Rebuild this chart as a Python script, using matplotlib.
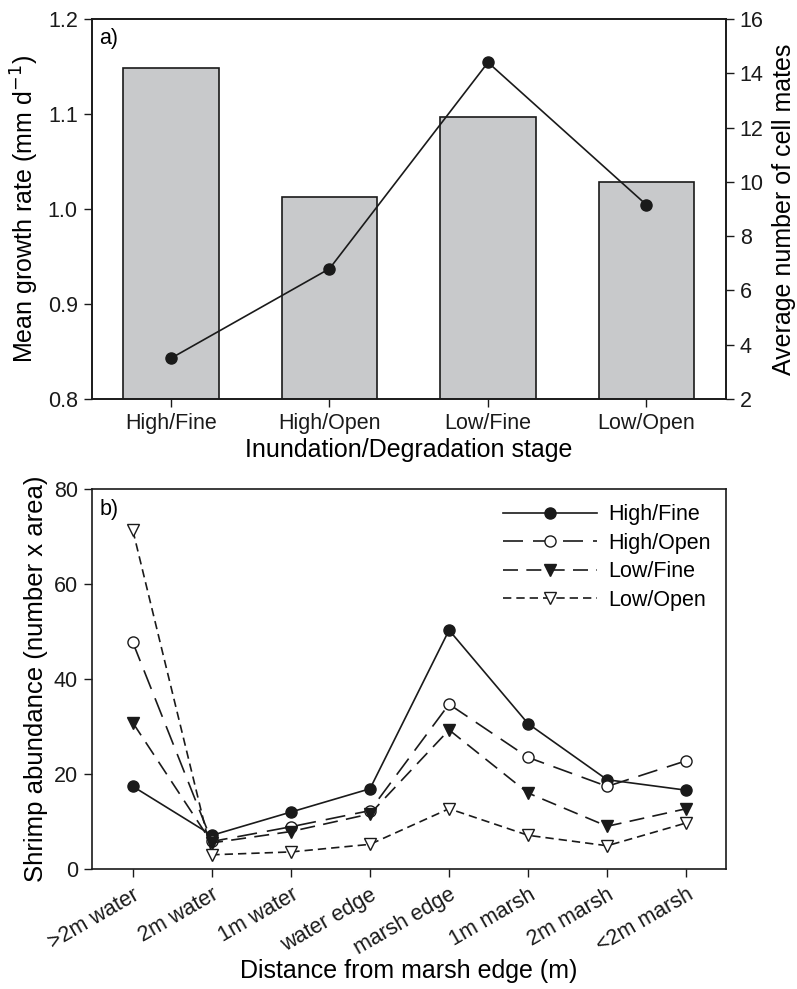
import matplotlib
matplotlib.use('Agg')
import matplotlib.pyplot as plt
from matplotlib.transforms import ScaledTranslation

plt.rcParams['font.family'] = ['Liberation Sans', 'DejaVu Sans']

# panel a
stages = ['High/Fine', 'High/Open', 'Low/Fine', 'Low/Open']
growth = [1.148, 1.013, 1.097, 1.028]
cellmates = [3.5, 6.8, 14.4, 9.15]

# panel b
distances = ['>2m water', '2m water', '1m water', 'water edge',
             'marsh edge', '1m marsh', '2m marsh', '<2m marsh']
high_fine = [17.4, 7.1, 12.0, 16.9, 50.3, 30.6, 18.8, 16.6]
high_open = [47.7, 5.8, 8.9, 12.3, 34.7, 23.5, 17.4, 22.8]
low_fine = [30.8, 5.5, 7.9, 11.6, 29.3, 16.0, 9.0, 12.7]
low_open = [71.3, 3.0, 3.6, 5.2, 12.7, 7.1, 4.9, 9.7]

ink = '#1a1a1a'
lab = 18
tks = 15.5

fig = plt.figure(figsize=(7.97, 9.89), dpi=100)

ax1 = fig.add_axes([0.1151, 0.5966, 0.7955, 0.3842])
x = range(len(stages))
ax1.bar(x, growth, width=0.6, color='#c8c9cb', edgecolor=ink, linewidth=1.2, zorder=1)
ax1.set_ylim(0.8, 1.2)
ax1.set_xlim(-0.5, 3.5)
ax1.set_yticks([0.8, 0.9, 1.0, 1.1, 1.2])
ax1.set_xticks(list(x))
ax1.set_xticklabels(stages)
ax1.set_ylabel('Mean growth rate (mm d$^{-1}$)', fontsize=lab, labelpad=5)
ax1.set_xlabel('Inundation/Degradation stage', fontsize=lab, labelpad=3)
ax1.text(0.012, 0.975, 'a)', transform=ax1.transAxes, fontsize=tks, va='top')

ax1r = ax1.twinx()
ax1r.plot(list(x), cellmates, color=ink, marker='o', markersize=8, linewidth=1.2)
ax1r.set_ylim(2, 16)
ax1r.set_yticks(range(2, 17, 2))
ax1r.set_ylabel('Average number of cell mates', fontsize=lab, labelpad=6)

for a in (ax1, ax1r):
    a.tick_params(direction='out', length=6, width=1, labelsize=tks, colors=ink, pad=4)
    for s in a.spines.values():
        s.set_linewidth(1.2)
        s.set_color(ink)

ax2 = fig.add_axes([0.1151, 0.1213, 0.7955, 0.3842])
xs = range(len(distances))
ax2.plot(xs, high_fine, color=ink, linestyle='-', marker='o', markersize=8,
         markerfacecolor=ink, markeredgecolor=ink, linewidth=1.2, label='High/Fine')
ax2.plot(xs, high_open, color=ink, linestyle=(0, (12, 6)), marker='o', markersize=8,
         markerfacecolor='white', markeredgecolor=ink, linewidth=1.2, label='High/Open')
ax2.plot(xs, low_fine, color=ink, linestyle=(0, (9, 5)), marker='v', markersize=9,
         markerfacecolor=ink, markeredgecolor=ink, linewidth=1.2, label='Low/Fine')
ax2.plot(xs, low_open, color=ink, linestyle=(0, (5, 3)), marker='v', markersize=9,
         markerfacecolor='white', markeredgecolor=ink, linewidth=1.2, label='Low/Open')
ax2.set_ylim(0, 80)
ax2.set_xlim(-0.52, 7.5)
ax2.set_yticks(range(0, 81, 20))
ax2.set_xticks(list(xs))
ax2.set_xticklabels(distances, rotation=30, ha='right', rotation_mode='anchor',
                    fontsize=14)
shift = ScaledTranslation(6 / 72, 0, fig.dpi_scale_trans)
for t in ax2.get_xticklabels():
    t.set_transform(t.get_transform() + shift)
ax2.set_ylabel('Shrimp abundance (number x area)', fontsize=18.5, labelpad=4)
ax2.set_xlabel('Distance from marsh edge (m)', fontsize=lab, labelpad=0)
ax2.text(0.012, 0.975, 'b)', transform=ax2.transAxes, fontsize=tks, va='top')
ax2.tick_params(direction='out', length=6, width=1, labelsize=tks, colors=ink, pad=4)
ax2.tick_params(axis='x', pad=5)
for s in ax2.spines.values():
    s.set_linewidth(1.2)
    s.set_color(ink)
ax2.legend(loc='upper right', frameon=False, fontsize=tks, handlelength=4.4,
           handletextpad=0.5, borderaxespad=0.3, labelspacing=0.35)

fig.savefig('out.png', dpi=100)
